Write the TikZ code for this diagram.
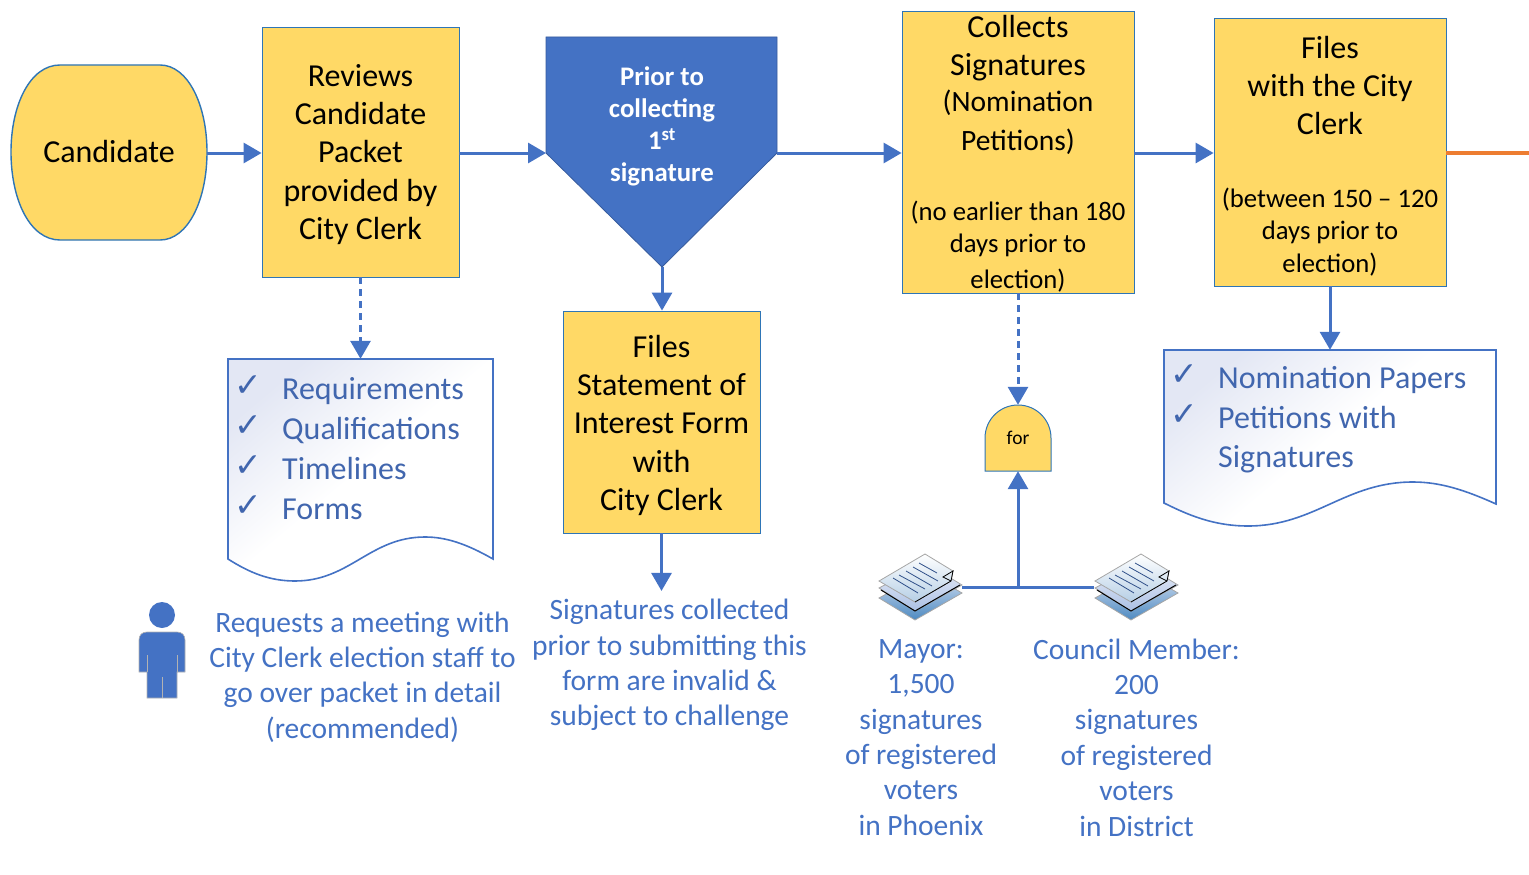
\documentclass[tikz,border=0pt]{standalone}
\usepackage{fontspec}
\setmainfont{Carlito}
\newfontfamily\checkfont{DejaVu Sans}
\usetikzlibrary{arrows.meta, positioning, shapes.geometric}
\definecolor{boxfill}{HTML}{FFD966}
\definecolor{boxline}{HTML}{2E75B6}
\definecolor{flowblue}{HTML}{4472C4}
\definecolor{listblue}{HTML}{4166AE}
\definecolor{shadeblue}{HTML}{E3E7F4}
\definecolor{flaporange}{HTML}{ED7D31}
\newcommand{\bigtext}{\fontsize{32}{38.2}\selectfont}
\newcommand{\midtext}{\fontsize{29.5}{38.2}\selectfont}
\newcommand{\smalltext}{\fontsize{26.7}{32}\selectfont}
\newcommand{\topgap}[1]{\rule{0pt}{#1pt}}
\newcommand{\chk}{\makebox[46pt][l]{\hspace*{-2pt}\raisebox{3pt}{\textcolor{listblue}{\checkfont\fontsize{33}{33}\selectfont ✓}}}}
\newcommand{\nochk}{\makebox[46pt][l]{}}

\begin{document}
\begin{tikzpicture}[x=1pt,y=-1pt,
    flow/.style={-{Triangle[length=18pt,width=20pt]},draw=flowblue,line width=3pt},
    docstack/.pic={
      \path[draw=gray!70,line width=0.8pt,top color=flowblue!20,bottom color=boxline!85]
        (-41,11) -- (6,-15) -- (42,6) -- (-5,33) -- cycle;
      \path[draw=gray!70,line width=0.8pt,top color=flowblue!10,bottom color=flowblue!45]
        (-41,1) -- (6,-24) -- (42,-2) -- (-5,24) -- cycle;
      \draw[black,line width=1pt] (-39,3) -- (-5,24) -- (40,-2);
      \path[draw=gray!70,line width=0.8pt,top color=white,bottom color=boxline!35]
        (-41,-6) -- (5,-33) -- (33,-16) -- (31,-6) -- (-5,15) -- cycle;
      \draw[black,line width=0.8pt] (-5,15) -- (31,-6) -- (33,-16) -- (23,-10) -- (31,-6);
      \foreach \a/\b/\c/\d in {-27/-9/-2/6, -21/-12/5/2, -14/-16/12/-1, -7/-20/18/-6, -1/-24/17/-14}
        \draw[flowblue!70!black,line width=0.8pt] (\a,\b) -- (\c,\d);
    }]
  \tikzstyle{stepbox}=[rectangle,draw=boxline,line width=0.8pt,fill=boxfill,align=center,inner xsep=0pt,inner ysep=-12pt,text=black,font=\bigtext]
  \tikzstyle{bluetext}=[align=center,inner sep=0pt,text=flowblue,font=\fontsize{29.5}{35.4}\selectfont]
  \tikzstyle{listtext}=[align=left,anchor=north west,inner sep=0pt,text=listblue,font=\fontsize{32}{40}\selectfont]
  \tikzstyle{sheet}=[draw=flowblue,line width=1.6pt,top color=shadeblue,bottom color=white,middle color=white,shading angle=40]
  \useasboundingbox (0,0) rectangle (1529,875);

  % Top row
  \path[draw=boxline,line width=1.4pt,fill=boxfill] (11,152) .. controls (11,105) and (30,65) .. (60,65) -- (160,65)
    .. controls (188,65) and (207,105) .. (207,152) .. controls (207,200) and (188,240) .. (160,240) -- (60,240)
    .. controls (30,240) and (11,200) .. (11,152) -- cycle;
  \node[inner sep=0pt,font=\bigtext,minimum width=196pt,minimum height=175pt] (cand) at (109,152) {Candidate};
  \node[stepbox,minimum width=197pt,minimum height=250pt] (review) at (360.5,152)
    {\topgap{27}Reviews\\Candidate\\Packet\\provided by\\City Clerk};
  \path[draw=flowblue!80!black,line width=0.8pt,fill=flowblue] (546,37) -- (777,37) -- (777,153) -- (662,267) -- (546,153) -- cycle;
  \coordinate (priorw) at (546,153);
  \coordinate (priore) at (777,153);
  \coordinate (priors) at (662,267);
  \node[align=center,inner sep=0pt,text=white,font=\fontsize{26.8}{32}\selectfont\bfseries] (prior) at (662,126)
    {Prior to\\collecting\\1\textsuperscript{st}\\signature};
  \node[stepbox,minimum width=232pt,minimum height=282pt] (collect) at (1018,152)
    {\topgap{26}Collects\\Signatures\\[-2pt]\midtext (Nomination\\\midtext Petitions)\\[32pt]\smalltext (no earlier than 180\\[-6pt]\smalltext days prior to\\[-2pt]\smalltext election)};
  \node[stepbox,minimum width=232pt,minimum height=268pt] (filed) at (1330,152)
    {\topgap{30}Files\\with the City\\Clerk\\[35pt]\smalltext (between 150 – 120\\[-6pt]\smalltext days prior to\\[-6pt]\smalltext election)};
  \coordinate (offpage) at (1529,153);

  % Second row
  \node[stepbox,minimum width=197pt,minimum height=222pt] (sif) at (661.5,422)
    {\topgap{29}Files\\Statement of\\Interest Form\\with\\City Clerk};
  \path[sheet] (228,359) -- (493,359) -- (493,559) .. controls (465,543) and (445,537) .. (425,537)
    .. controls (370,537) and (350,581) .. (295,581) .. controls (270,581) and (250,573) .. (228,559) -- cycle;
  \node[inner sep=0pt,minimum width=265pt,minimum height=222pt] (reqs) at (360.5,470) {};
  \node[listtext] (reqlist) at (236,376)
    {\chk Requirements\\\chk Qualifications\\\chk Timelines\\\chk Forms};
  \path[sheet] (1164,350) -- (1496,350) -- (1496,504) .. controls (1465,490) and (1440,482) .. (1413,482)
    .. controls (1345,482) and (1315,526) .. (1248,526) .. controls (1215,526) and (1190,516) .. (1164,503) -- cycle;
  \node[inner sep=0pt,minimum width=332pt,minimum height=176pt] (papers) at (1330,438) {};
  \node[listtext] (paperlist) at (1172,365)
    {\chk Nomination Papers\\[-0.5pt]\chk Petitions with\\[-1pt]\nochk Signatures};
  \path[draw=boxline,line width=1pt,fill=boxfill] (985,471) -- (985,438) arc[start angle=180,end angle=360,x radius=33,y radius=33] -- (1051,471) -- cycle;
  \node[inner sep=0pt,font=\fontsize{19.5}{24}\selectfont,minimum width=66pt,minimum height=66pt] (gate) at (1018,438) {for};

  % Person
  \path[fill=flowblue,draw=gray!60,line width=0.6pt] (139,672) -- (139,640) .. controls (139,635) and (142,632) .. (147,632)
    -- (177,632) .. controls (182,632) and (185,635) .. (185,640) -- (185,672) -- (177,672) -- (177,698) -- (147,698) -- (147,672) -- cycle;
  \fill[flowblue] (162,615) circle[radius=13];
  \draw[gray!60,line width=0.6pt] (147,655) -- (147,672) (177,655) -- (177,672) (162,677) -- (162,698);

  % Labels
  \node[bluetext] (meeting) at (362.5,677) {Requests a meeting with\\City Clerk election staff to\\go over packet in detail\\(recommended)};
  \node[bluetext] (collected) at (669.5,665) {Signatures collected\\prior to submitting this\\form are invalid \&\\subject to challenge};
  \node[bluetext] (mayor) at (921,737.5) {Mayor:\\1,500\\signatures\\of registered\\voters\\in Phoenix};
  \node[bluetext] (council) at (1136.5,737.5) {Council Member:\\200\\signatures\\of registered\\voters\\in District};

  % Signature stacks
  \node[minimum width=84pt,minimum height=66pt,inner sep=0pt] (stacka) at (920,587) {};
  \node[minimum width=84pt,minimum height=66pt,inner sep=0pt] (stackb) at (1136,587) {};
  \coordinate (join) at (1018,587);
  \draw[draw=flowblue,line width=3pt] (stacka.east) -- (stackb.west);
  \pic at (stacka) {docstack};
  \pic at (stackb) {docstack};

  % Connectors
  \draw[flow] (cand.east |- priorw) -- (review.west |- priorw);
  \draw[flow] (review.east |- priorw) -- (priorw);
  \draw[flow] (priore) -- (collect.west |- priore);
  \draw[flow] (collect.east |- priore) -- (filed.west |- priore);
  \draw[flow] (priors) -- (priors |- sif.north);
  \draw[flow] (sif.south) -- ([yshift=8pt]sif.south |- collected.north);
  \draw[flow,dash pattern=on 7pt off 5pt] (review.south) -- (reqs.north);
  \draw[flow,dash pattern=on 7pt off 5pt] (collect.south) -- (gate.north);
  \draw[flow] (filed.south) -- (papers.north);
  \draw[flow] (join) -- (gate.south);
  \draw[draw=flaporange,line width=4.5pt] (filed.east |- offpage) -- (offpage);
\end{tikzpicture}
\end{document}
